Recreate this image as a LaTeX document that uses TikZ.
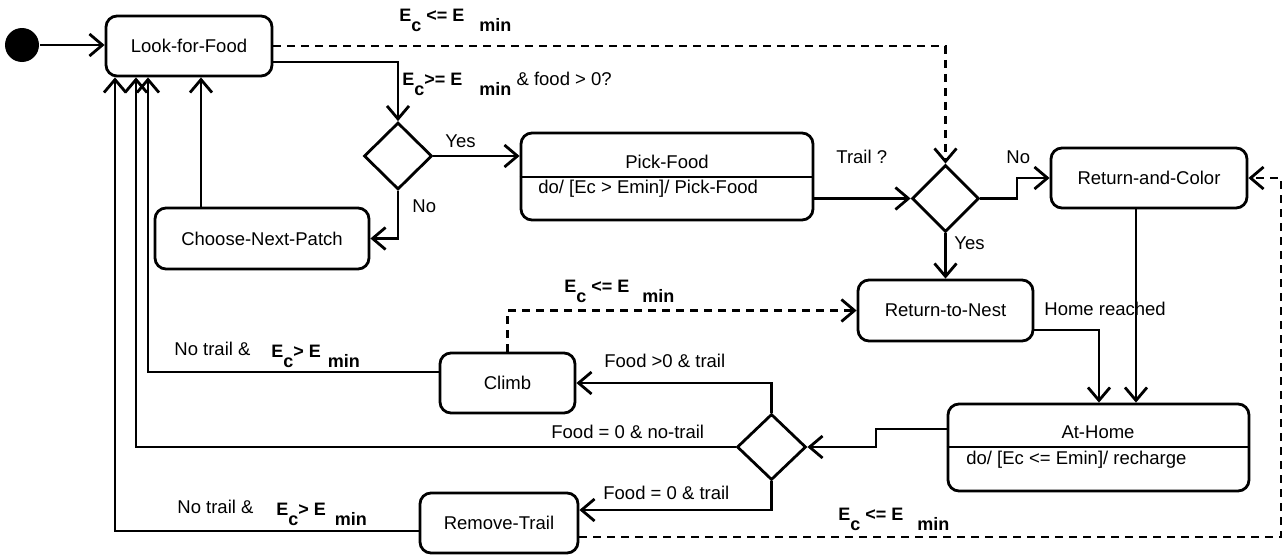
\documentclass[tikz,border=0pt]{standalone}
\usepackage{fontspec}
\setmainfont{Liberation Sans}
\usetikzlibrary{arrows.meta}
\usetikzlibrary{shapes.geometric}

\newcommand{\lowtxt}[1]{\raisebox{-10pt}{#1}}

\begin{document}
\begin{tikzpicture}[x=1pt,y=1pt,yscale=-1,line width=2.8pt,
  every node/.style={font=\fontsize{18.5}{22}\selectfont},
  state/.style={draw,rounded corners=11pt,inner sep=0pt},
  choice/.style={draw,diamond,inner sep=0pt},
  tr/.style={-{Straight Barb[length=13pt,width=22pt]}},
  guard/.style={dash pattern=on 8pt off 6pt},
  txt/.style={anchor=base west,inner sep=0pt},
  cond/.style={anchor=base west,inner sep=0pt,font=\fontsize{18}{20}\selectfont\bfseries}]
\useasboundingbox (0,0) rectangle (1286,557);

%Shape: Circle [initial]
\node (start) [circle,fill,minimum size=34pt,inner sep=0pt] at (22,45) {};
%Shape: Rounded Rect
\node (lff) [state,minimum width=166pt,minimum height=60pt] at (189,46) {Look-for-Food};
%Shape: Rounded Rect
\node (cnp) [state,minimum width=214pt,minimum height=61pt] at (262,238.5) {Choose-Next-Patch};
%Shape: Rounded Rect
\node (pf) [state,minimum width=292pt,minimum height=87pt] at (667,176.5) {};
\draw (pf.west |- 0,177) -- (pf.east |- 0,177);
\node (pftitle) [anchor=base,inner sep=0pt] at (667,168) {Pick-Food};
\node (pfdo) [txt] at (537,193) {do/ [Ec > Emin]/ Pick-Food};
%Shape: Rounded Rect
\node (rac) [state,minimum width=196pt,minimum height=60pt] at (1149,178) {Return-and-Color};
%Shape: Rounded Rect
\node (rtn) [state,minimum width=175pt,minimum height=61pt] at (945.5,310.5) {Return-to-Nest};
%Shape: Rounded Rect
\node (ah) [state,minimum width=301pt,minimum height=87pt] at (1098.5,447.5) {};
\draw (ah.west |- 0,447) -- (ah.east |- 0,447);
\node (ahtitle) [anchor=base,inner sep=0pt] at (1098,438) {At-Home};
\node (ahdo) [txt] at (965,464) {do/ [Ec <= Emin]/ recharge};
%Shape: Rounded Rect
\node (climb) [state,minimum width=135pt,minimum height=60pt] at (507.5,383) {Climb};
%Shape: Rounded Rect
\node (rt) [state,minimum width=158pt,minimum height=60pt] at (499,523) {Remove-Trail};
%Shape: Diamond
\node (d1) [choice,minimum width=68pt,minimum height=67pt] at (398,156) {};
%Shape: Diamond
\node (d2) [choice,minimum width=67pt,minimum height=67pt] at (945.5,198.5) {};
%Shape: Diamond
\node (d3) [choice,minimum width=69pt,minimum height=66pt] at (771.5,447) {};

%Straight Lines
\draw [tr] (start) -- (lff.west |- start);
\draw [tr,guard] (lff.east) -| (d2.north);
\draw [tr] (lff.east |- 0,62) -| (d1.north);
\draw [tr] (d1.east) -- (pf.west |- d1.east);
\draw [tr] (d1.south) |- (cnp.east);
\draw [tr] (cnp.north -| 201,0) -- (lff.south -| 201,0);
\draw [tr] (pf.east |- d2.west) -- (d2.west);
\draw [tr] (d2.east) -- (d2.east -| 1017,0) |- (rac.west);
\draw [tr] (d2.south) -- (rtn.north);
\draw [tr] (rac.south -| 1136,0) -- (ah.north -| 1136,0);
\draw [tr] (rtn.east |- 0,330) -| (ah.north -| 1099,0);
\draw [tr] (ah.west |- 0,429) -- (876,429) |- (d3.east);
\draw [tr] (d3.north) |- (climb.east);
\draw [tr] (d3.south) |- (rt.east |- 0,510);
\draw [tr] (d3.west) -| (lff.south -| 136,0);
\draw [tr] (climb.west |- 0,372) -| (lff.south -| 148,0);
\draw [tr] (rt.west |- 0,531) -| (lff.south -| 115,0);
\draw [tr,guard] (climb.north) |- (rtn.west);
\draw [tr,guard] (rt.east |- 0,537) -- (1281,537) |- (rac.east);

% Text Node
\node (yes1) [txt] at (444,147) {Yes};
% Text Node
\node (no1) [txt] at (411,212) {No};
% Text Node
\node (trail) [txt] at (835,163) {Trail ?};
% Text Node
\node (no2) [txt] at (1005,163) {No};
% Text Node
\node (yes2) [txt] at (953,249) {Yes};
% Text Node
\node (home) [txt] at (1043,315) {Home reached};
% Text Node
\node (fclimb) [txt] at (603,367) {Food >0 \& trail};
% Text Node
\node (fnone) [txt] at (550,438) {Food = 0 \& no-trail};
% Text Node
\node (fremove) [txt] at (602,499) {Food = 0 \& trail};
% Text Node
\node (ntclimb) [txt] at (173,355) {No trail \&};
% Text Node
\node (ntremove) [txt] at (176,513) {No trail \&};
% Text Node
\node (ectop) [cond] at (398,21) {E\lowtxt{c} <= E\hspace{15pt}\lowtxt{min}};
% Text Node
\node (ecgo) [cond] at (401,85) {E\lowtxt{c}>= E\hspace{17pt}\lowtxt{min}{\fontsize{18.5}{22}\selectfont\mdseries\ \& food > 0?}};
% Text Node
\node (ecmid) [cond] at (563,292) {E\lowtxt{c} <= E\hspace{13pt}\lowtxt{min}};
% Text Node
\node (ecclimb) [cond] at (270,357) {E\lowtxt{c}> E\hspace{7pt}\lowtxt{min}};
% Text Node
\node (ecremove) [cond] at (275,515) {E\lowtxt{c}> E\hspace{9pt}\lowtxt{min}};
% Text Node
\node (ecbottom) [cond] at (837,520) {E\lowtxt{c} <= E\hspace{14pt}\lowtxt{min}};

\end{tikzpicture}
\end{document}
